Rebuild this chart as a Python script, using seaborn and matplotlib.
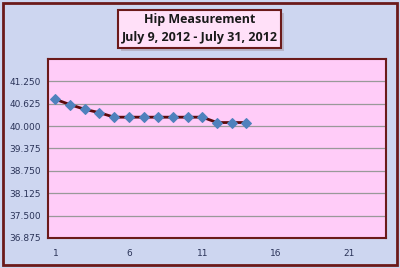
import matplotlib
matplotlib.use("Agg")
import matplotlib.pyplot as plt
import seaborn as sns
import pandas as pd
import numpy as np
from matplotlib.patches import Rectangle

# Data
days = [1, 2, 3, 4, 5, 6, 7, 8, 9, 10, 11, 12, 13, 14]
hip = [40.75, 40.6, 40.47, 40.375, 40.25, 40.25, 40.25, 40.25, 40.25, 40.25, 40.25, 40.1, 40.1, 40.1]
y_ticks = [36.875, 37.5, 38.125, 38.75, 39.375, 40.0, 40.625, 41.25]
x_labels = [1, 6, 11, 16, 21]
title_lines = ["Hip Measurement", "July 9, 2012 - July 31, 2012"]

df = pd.DataFrame({"day": days, "hip": hip})

sns.set_style("white")
fig = plt.figure(figsize=(4, 2.68), dpi=100)
bg = "#cdd6f0"
fig.patch.set_facecolor(bg)

# outer border
fig.add_artist(Rectangle((3/400, 3/268), 394/400, 262/268, transform=fig.transFigure,
                         fill=False, edgecolor="#6b1a1a", linewidth=2.0))

ax = fig.add_axes([48/400, 1 - 238/268, 338/400, (238 - 59)/268])
ax.set_facecolor("#ffccf8")

sns.lineplot(data=df, x="day", y="hip", ax=ax, color="#5c0a0a", linewidth=2.0,
             marker="D", markersize=5, markerfacecolor="#4f81bd",
             markeredgecolor="#4f81bd", zorder=5)

ax.set_xlim(0.5, 23.5)
ax.set_ylim(36.875, 41.875)
ax.set_yticks(y_ticks)
ax.set_yticklabels([f"{v:.3f}" for v in y_ticks])
ax.set_xticks(x_labels)
ax.set_xticklabels([str(v) for v in x_labels])
ax.set_xticks(np.arange(0.5, 24, 1), minor=True)
ax.tick_params(axis="x", which="major", length=0, pad=8, labelsize=6.5, labelcolor="#2a3358")
ax.tick_params(axis="x", which="minor", length=3, direction="out", color="#707070", width=0.8)
ax.tick_params(axis="y", which="major", length=3, direction="out", color="#707070",
               labelsize=6.5, labelcolor="#2a3358", pad=2)
for lbl in ax.get_xticklabels() + ax.get_yticklabels():
    lbl.set_family("DejaVu Sans")
ax.grid(axis="y", color="#999999", linewidth=0.9)
ax.set_axisbelow(True)
ax.set_xlabel("")
ax.set_ylabel("")
for s in ax.spines.values():
    s.set_color("#6b1a1a")
    s.set_linewidth(1.5)

# title box with shadow
fig.add_artist(Rectangle((121/400, 1 - 51/268), 163/400, 38/268, transform=fig.transFigure,
                         facecolor="#b0a8b8", edgecolor="none", alpha=0.7))
fig.add_artist(Rectangle((118/400, 1 - 48/268), 163/400, 38/268, transform=fig.transFigure,
                         facecolor="#ffe0f8", edgecolor="#6b1a1a", linewidth=1.5))
fig.text(200/400, 1 - 20/268, title_lines[0], ha="center", va="center",
         fontsize=9, fontweight="bold", family="Open Sans", color="#1a1a1a")
fig.text(200/400, 1 - 37/268, title_lines[1], ha="center", va="center",
         fontsize=9, fontweight="bold", family="Open Sans", color="#1a1a1a")

fig.savefig("out.png", dpi=100, facecolor=bg)
